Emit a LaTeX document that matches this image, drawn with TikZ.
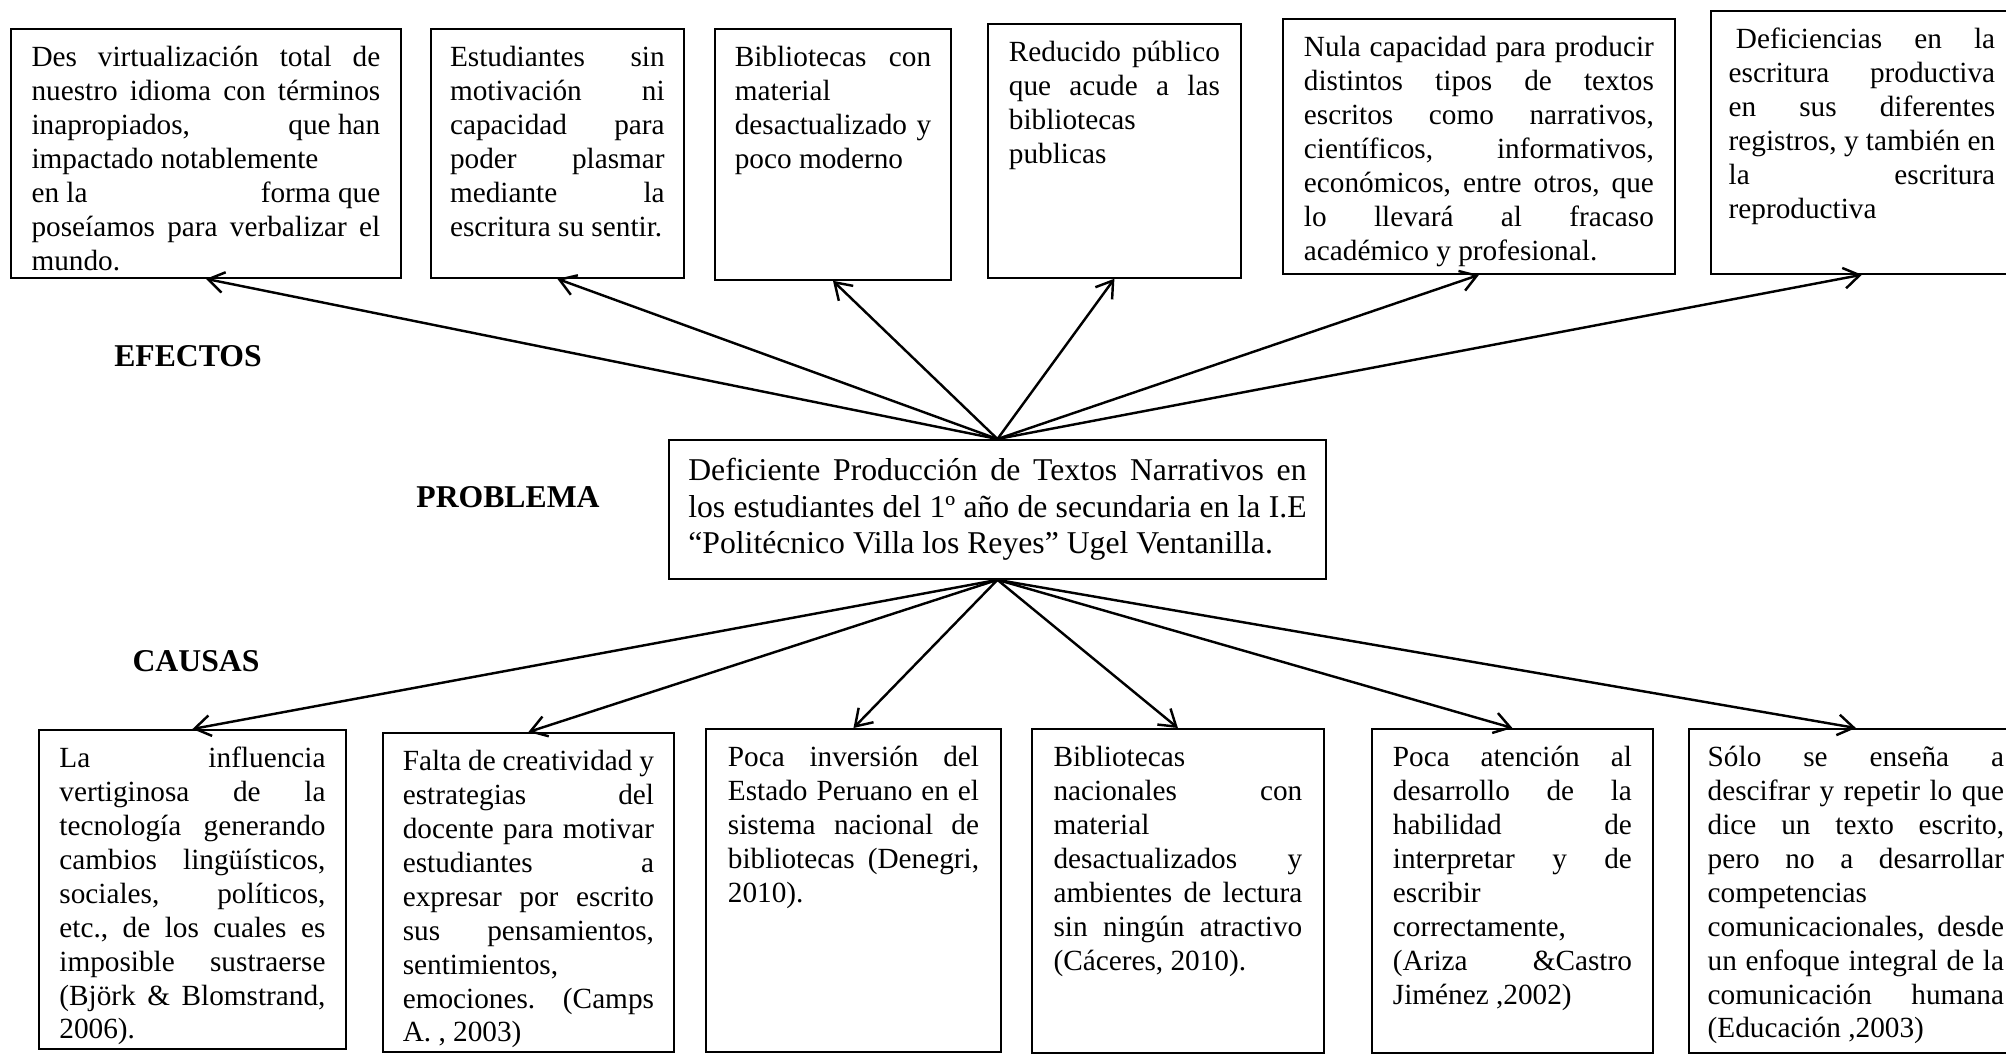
\documentclass[tikz,border=0pt]{standalone}
\usepackage{fontspec}
\setmainfont{Liberation Serif}
\usepackage{tikz}
\usetikzlibrary{arrows.meta}
\hyphenpenalty=10000
\exhyphenpenalty=10000
\tolerance=10000
\frenchspacing

\tikzset{
  caja/.style={draw, line width=0.75pt, anchor=north west, align=justify,
    inner ysep=4.5pt, text height=11pt, font=\fontsize{12}{13.9}\selectfont},
  flecha/.style={-{Straight Barb[length=6.5pt,width=8.5pt]}, line width=1pt},
  titulo/.style={font=\fontsize{13}{15}\selectfont\bfseries}
}

\begin{document}
\begin{tikzpicture}[x=0.41pt, y=-0.41pt]
  \useasboundingbox (0,0) rectangle (2006,1053);
  \clip (0,0) rectangle (2006,1053);

  % efectos
  \node[caja, text width=143pt, inner xsep=8.45pt, text depth=82.1pt] (ef1) at (10,28)
    {Des virtualización total de\linebreak nuestro idioma con términos\linebreak
     inapropiados,\hfill que han\linebreak impactado notablemente\newline
     en la\hfill forma que\linebreak poseíamos para verbalizar el\linebreak mundo.};
  \node[caja, text width=88pt, inner xsep=7.85pt, text depth=82.1pt] (ef2) at (430,28)
    {Estudiantes sin\linebreak motivación ni\linebreak capacidad para\linebreak
     poder plasmar\linebreak mediante la\linebreak escritura su sentir.};
  \node[caja, text width=80.5pt, inner xsep=8.15pt, text depth=82.9pt] (ef3) at (714,28)
    {Bibliotecas con\linebreak material\linebreak desactualizado y\linebreak poco moderno};
  \node[caja, text width=86.5pt, inner xsep=8.6pt, text depth=84.1pt] (ef4) at (987,23)
    {Reducido público\linebreak que acude a las\linebreak bibliotecas\linebreak publicas};
  \node[caja, text width=143.5pt, inner xsep=8.6pt, text depth=84.6pt] (ef5) at (1282,18)
    {Nula capacidad para producir\linebreak distintos tipos de textos\linebreak
     escritos como narrativos,\linebreak científicos, informativos,\linebreak
     económicos, entre otros, que\linebreak lo llevará al fracaso\linebreak
     académico y profesional.};
  \node[caja, text width=109.3pt, inner xsep=7.25pt, text depth=87.8pt] (ef6) at (1710,10)
    {\hspace*{3pt}Deficiencias en la\linebreak escritura productiva\linebreak
     en sus diferentes\linebreak registros, y también en\linebreak la escritura\linebreak
     reproductiva};

  % problema
  \node[caja, font=\fontsize{13}{14.95}\selectfont, text height=12pt, inner ysep=4.8pt,
    text width=253.5pt, inner xsep=7.95pt, text depth=35.4pt] (prob) at (668,439)
    {Deficiente Producción de Textos Narrativos en\linebreak
     los estudiantes del 1º año de secundaria en la I.E\linebreak
     “Politécnico Villa los Reyes” Ugel Ventanilla.};

  % causas
  \node[caja, text width=109.1pt, inner xsep=8.4pt, text depth=110.8pt] (ca1) at (38,729)
    {La influencia\linebreak vertiginosa de la\linebreak tecnología generando\linebreak
     cambios lingüísticos,\linebreak sociales, políticos,\linebreak etc., de los cuales es\linebreak
     imposible sustraerse\linebreak (Björk \& Blomstrand,\linebreak 2006).};
  \node[caja, text width=103pt, inner xsep=8.15pt, text depth=110.8pt] (ca2) at (382,732)
    {Falta de creatividad y\linebreak estrategias del\linebreak docente para motivar\linebreak
     estudiantes a\linebreak expresar por escrito\linebreak sus pensamientos,\linebreak
     sentimientos,\linebreak emociones. (Camps\linebreak A. , 2003)};
  \node[caja, text width=103pt, inner xsep=9pt, text depth=112.4pt] (ca3) at (705,728)
    {Poca inversión del\linebreak Estado Peruano en el\linebreak sistema nacional de\linebreak
     bibliotecas (Denegri,\linebreak 2010).};
  \node[caja, text width=102pt, inner xsep=8.85pt, text depth=112.8pt] (ca4) at (1031,728)
    {Bibliotecas\linebreak nacionales con\linebreak material\linebreak desactualizados y\linebreak
     ambientes de lectura\linebreak sin ningún atractivo\linebreak (Cáceres, 2010).};
  \node[caja, text width=98pt, inner xsep=8.6pt, text depth=112.8pt] (ca5) at (1371,728)
    {Poca atención al\linebreak desarrollo de la\linebreak habilidad de\linebreak
     interpretar y de\linebreak escribir\linebreak correctamente,\linebreak
     (Ariza \&Castro\linebreak Jiménez ,2002)};
  \node[caja, text width=121.5pt, inner xsep=7.7pt, text depth=112.8pt] (ca6) at (1688,728)
    {Sólo se enseña a\linebreak descifrar y repetir lo que\linebreak dice un texto escrito,\linebreak
     pero no a desarrollar\linebreak competencias\linebreak comunicacionales, desde\linebreak
     un enfoque integral de la\linebreak comunicación humana\linebreak (Educación ,2003)};

  \node[titulo] (efectos) at (188,356) {EFECTOS};
  \node[titulo] (problema) at (508,497) {PROBLEMA};
  \node[titulo] (causas) at (196,661) {CAUSAS};

  \draw[flecha] (prob.north) -- (ef1.south);
  \draw[flecha] (prob.north) -- (ef2.south);
  \draw[flecha] (prob.north) -- (ef3.south);
  \draw[flecha] (prob.north) -- (ef4.south);
  \draw[flecha] (prob.north) -- (ef5.south);
  \draw[flecha] (prob.north) -- (ef6.south);

  \draw[flecha] (prob.south) -- (ca1.north);
  \draw[flecha] (prob.south) -- (ca2.north);
  \draw[flecha] (prob.south) -- (ca3.north);
  \draw[flecha] (prob.south) -- (ca4.north);
  \draw[flecha] (prob.south) -- (ca5.north);
  \draw[flecha] (prob.south) -- (ca6.north);
\end{tikzpicture}
\end{document}
